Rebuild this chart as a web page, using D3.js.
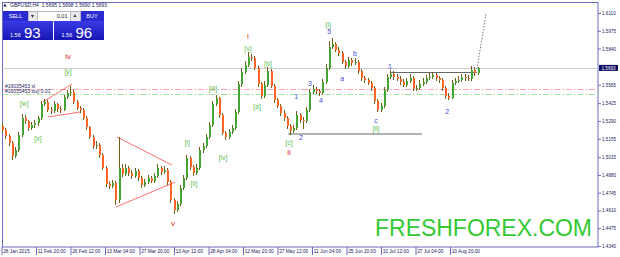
<!DOCTYPE html>
<html>
<head>
<meta charset="utf-8">
<script src="https://cdn.jsdelivr.net/npm/d3@7"></script>
<style>
    body { margin: 0; background: #fff; }
    svg { display: block; font-family: "Liberation Sans", Arial, sans-serif; }
</style>
</head>
<body>
<div id="chart"></div>
<script>
// Data (one candle per trading day)
const symbolTitle = "GBPUSD,H4  1.5695 1.5698 1.5690 1.5693";
const firstOpen = 1.5250;

const dailyClose = [
    1.5221, 1.5175, 1.5122, 1.5023, 1.5069, 1.5183, 1.5312, 1.5289, 1.5236, 1.5259,
    1.5274, 1.5312, 1.5419, 1.5434, 1.5373, 1.5366, 1.5419, 1.5381, 1.5373, 1.5472,
    1.5502, 1.5510, 1.5434, 1.5388, 1.5373, 1.5312, 1.5244, 1.5168, 1.5099, 1.5107,
    1.5031, 1.4932, 1.4811, 1.4795, 1.4818, 1.4689, 1.4932, 1.4887, 1.4932, 1.4894,
    1.4871, 1.4909, 1.4856, 1.4803, 1.4826, 1.4856, 1.4833, 1.4871, 1.4932, 1.4902,
    1.4917, 1.4826, 1.4689, 1.4613, 1.4659, 1.4780, 1.4856, 1.5008, 1.4940, 1.4894,
    1.4932, 1.5069, 1.5099, 1.5168, 1.5259, 1.5419, 1.5464, 1.5335, 1.5198, 1.5168,
    1.5206, 1.5236, 1.5358, 1.5571, 1.5662, 1.5715, 1.5776, 1.5768, 1.5692, 1.5571,
    1.5479, 1.5563, 1.5669, 1.5555, 1.5449, 1.5403, 1.5350, 1.5312, 1.5251, 1.5213,
    1.5236, 1.5335, 1.5297, 1.5290, 1.5373, 1.5510, 1.5533, 1.5517, 1.5505, 1.5586,
    1.5692, 1.5852, 1.5875, 1.5829, 1.5806, 1.5738, 1.5707, 1.5753, 1.5730, 1.5738,
    1.5669, 1.5616, 1.5601, 1.5578, 1.5540, 1.5441, 1.5373, 1.5403, 1.5525, 1.5624,
    1.5647, 1.5624, 1.5609, 1.5586, 1.5563, 1.5593, 1.5616, 1.5533, 1.5540, 1.5571,
    1.5586, 1.5616, 1.5624, 1.5639, 1.5616, 1.5601, 1.5540, 1.5479, 1.5464, 1.5578,
    1.5593, 1.5601, 1.5624, 1.5616, 1.5609, 1.5677, 1.5654, 1.5693
];

const dailyHigh = [
    1.5275, 1.5240, 1.5190, 1.5135, 1.5095, 1.5205, 1.5340, 1.5335, 1.5300, 1.5285,
    1.5300, 1.5330, 1.5440, 1.5460, 1.5450, 1.5395, 1.5445, 1.5430, 1.5400, 1.5490,
    1.5525, 1.5555, 1.5525, 1.5450, 1.5405, 1.5385, 1.5325, 1.5255, 1.5180, 1.5135,
    1.5120, 1.5045, 1.4945, 1.4835, 1.4845, 1.4830, 1.5168, 1.4960, 1.4960, 1.4950,
    1.4915, 1.4935, 1.4925, 1.4870, 1.4850, 1.4880, 1.4875, 1.4895, 1.4960, 1.4950,
    1.4945, 1.4935, 1.4840, 1.4705, 1.4685, 1.4800, 1.4880, 1.5035, 1.5020, 1.4955,
    1.4960, 1.5090, 1.5125, 1.5190, 1.5285, 1.5445, 1.5487, 1.5475, 1.5350, 1.5215,
    1.5230, 1.5260, 1.5380, 1.5595, 1.5690, 1.5745, 1.5814, 1.5800, 1.5780, 1.5705,
    1.5585, 1.5590, 1.5700, 1.5685, 1.5570, 1.5465, 1.5420, 1.5370, 1.5325, 1.5265,
    1.5260, 1.5365, 1.5350, 1.5320, 1.5395, 1.5535, 1.5560, 1.5550, 1.5535, 1.5610,
    1.5720, 1.5900, 1.5920, 1.5890, 1.5850, 1.5820, 1.5755, 1.5775, 1.5770, 1.5765,
    1.5750, 1.5685, 1.5635, 1.5620, 1.5595, 1.5555, 1.5455, 1.5430, 1.5545, 1.5650,
    1.5680, 1.5670, 1.5645, 1.5630, 1.5605, 1.5620, 1.5650, 1.5630, 1.5565, 1.5600,
    1.5615, 1.5640, 1.5655, 1.5665, 1.5655, 1.5635, 1.5615, 1.5555, 1.5500, 1.5600,
    1.5620, 1.5630, 1.5650, 1.5645, 1.5640, 1.5710, 1.5700, 1.5698
];

const dailyLow = [
    1.5195, 1.5150, 1.5100, 1.4993, 1.5005, 1.5055, 1.5170, 1.5265, 1.5215, 1.5220,
    1.5240, 1.5255, 1.5300, 1.5400, 1.5355, 1.5345, 1.5350, 1.5360, 1.5350, 1.5365,
    1.5455, 1.5480, 1.5420, 1.5370, 1.5350, 1.5295, 1.5225, 1.5150, 1.5080, 1.5080,
    1.5010, 1.4915, 1.4790, 1.4770, 1.4780, 1.4651, 1.4670, 1.4865, 1.4870, 1.4875,
    1.4850, 1.4855, 1.4835, 1.4780, 1.4785, 1.4810, 1.4815, 1.4820, 1.4860, 1.4880,
    1.4885, 1.4805, 1.4665, 1.4583, 1.4595, 1.4645, 1.4765, 1.4840, 1.4920, 1.4875,
    1.4880, 1.4920, 1.5050, 1.5085, 1.5150, 1.5245, 1.5400, 1.5315, 1.5180, 1.5145,
    1.5150, 1.5190, 1.5220, 1.5345, 1.5550, 1.5645, 1.5700, 1.5745, 1.5675, 1.5550,
    1.5455, 1.5465, 1.5545, 1.5540, 1.5430, 1.5385, 1.5330, 1.5290, 1.5230, 1.5183,
    1.5195, 1.5220, 1.5275, 1.5230, 1.5275, 1.5360, 1.5495, 1.5495, 1.5480, 1.5490,
    1.5570, 1.5680, 1.5835, 1.5810, 1.5785, 1.5720, 1.5685, 1.5690, 1.5710, 1.5715,
    1.5650, 1.5595, 1.5580, 1.5560, 1.5520, 1.5420, 1.5358, 1.5360, 1.5390, 1.5510,
    1.5605, 1.5600, 1.5590, 1.5565, 1.5545, 1.5550, 1.5580, 1.5515, 1.5515, 1.5525,
    1.5555, 1.5570, 1.5600, 1.5610, 1.5595, 1.5580, 1.5520, 1.5460, 1.5449, 1.5455,
    1.5560, 1.5575, 1.5585, 1.5595, 1.5590, 1.5595, 1.5635, 1.5640
];

const timeLabels = [
    "28 Jan 2015", "11 Feb 20:00", "26 Feb 12:00", "13 Mar 04:00", "27 Mar 20:00",
    "13 Apr 12:00", "28 Apr 04:00", "12 May 20:00", "27 May 12:00", "11 Jun 04:00",
    "25 Jun 20:00", "10 Jul 12:00", "27 Jul 04:00", "10 Aug 20:00"
];
const barsPerLabel = 64;   // H4 bars between time labels
const barsPerDay = 6;

const priceTicks = [1.6110, 1.5975, 1.5840, 1.5565, 1.5425, 1.5290, 1.5155,
    1.5015, 1.4880, 1.4745, 1.4610, 1.4475, 1.4340];
const lastPrice = 1.5693;
const orderLevels = [
    { price: 1.5533, label: "#16035453 sl", kind: "sl" },
    { price: 1.5495, label: "#16035453 buy 0.01", kind: "buy" }
];

// Wave counts: day index, price, text, degree
const waveLabels = [
    { d: 20.1, p: 1.5776, t: "iv", k: "minor" },
    { d: 20.1, p: 1.5669, t: "[y]", k: "minute" },
    { d: 6.5, p: 1.5426, t: "[w]", k: "minute" },
    { d: 10.8, p: 1.5160, t: "[x]", k: "minute" },
    { d: 52.5, p: 1.4514, t: "v", k: "minor" },
    { d: 56.9, p: 1.5130, t: "[i]", k: "minute" },
    { d: 59.0, p: 1.4818, t: "[ii]", k: "minute" },
    { d: 64.9, p: 1.5540, t: "[iii]", k: "minute" },
    { d: 68.0, p: 1.5016, t: "[iv]", k: "minute" },
    { d: 75.7, p: 1.5844, t: "[v]", k: "minute" },
    { d: 75.7, p: 1.5928, t: "i", k: "minor" },
    { d: 78.5, p: 1.5396, t: "[a]", k: "minute" },
    { d: 81.9, p: 1.5730, t: "[b]", k: "minute" },
    { d: 88.4, p: 1.5130, t: "[c]", k: "minute" },
    { d: 88.4, p: 1.5054, t: "ii", k: "minor" },
    { d: 90.6, p: 1.5472, t: "1", k: "minuette" },
    { d: 92.1, p: 1.5168, t: "2", k: "minuette" },
    { d: 94.9, p: 1.5571, t: "3", k: "minuette" },
    { d: 98.3, p: 1.5449, t: "4", k: "minuette" },
    { d: 100.8, p: 1.5966, t: "5", k: "minuette" },
    { d: 100.5, p: 1.6019, t: "[i]", k: "minute" },
    { d: 104.8, p: 1.5609, t: "a", k: "minuette" },
    { d: 108.8, p: 1.5806, t: "b", k: "minuette" },
    { d: 115.3, p: 1.5290, t: "c", k: "minuette" },
    { d: 115.3, p: 1.5232, t: "[ii]", k: "minute" },
    { d: 119.6, p: 1.5700, t: "1", k: "minuette" },
    { d: 137.3, p: 1.5365, t: "2", k: "minuette" }
];

const trendLines = [
    { d1: 12.3, p1: 1.5434, d2: 21.3, p2: 1.5571, k: "wedge" },
    { d1: 13.9, p1: 1.5320, d2: 23.8, p2: 1.5358, k: "wedge" },
    { d1: 35.2, p1: 1.5168, d2: 52.2, p2: 1.4955, k: "wedge" },
    { d1: 34.9, p1: 1.4636, d2: 53.2, p2: 1.4826, k: "wedge" },
    { d1: 88.1, p1: 1.5191, d2: 129.5, p2: 1.5191, k: "level" },
    { d1: 119.6, p1: 1.5658, d2: 146.5, p2: 1.5658, k: "level" },
    { d1: 146.5, p1: 1.5685, d2: 149.3, p2: 1.6103, k: "target" }
];

const panelPrices = { sell: ["1.56", "93"], buy: ["1.56", "96"], lot: "0.01" };

// Configuration
const colors = {
    frame: "#6b6bc0",
    axisText: "#1c1c5c",
    bull: "#43a535",
    bear: "#ff6424",
    wick: "#6e5e18",
    minute: "#62c052",
    minor: "#d8261a",
    minuette: "#4848e0",
    wedge: "#ff7070",
    level: "#666",
    sl: "#f3a3ad",
    buy: "#a9e29f",
    bid: "#cdcdcd",
    brand: "#33c933"
};

const W = 620, H = 257;
const plot = { left: 2.5, right: 598, top: 2.5, bottom: 247 };

const svg = d3.select("#chart").append("svg")
    .attr("width", W)
    .attr("height", H);

// Scales: x by H4 bar index, y by price
const x = d3.scaleLinear()
    .domain([0, barsPerLabel * (timeLabels.length - 1)])
    .range([1.5, 450]);
const y = d3.scaleLinear()
    .domain([1.4340, 1.6110])
    .range([246, 13]);
const dayX = d => x(d * barsPerDay + barsPerDay / 2);

// Frame
svg.append("rect")
    .attr("x", plot.left).attr("y", plot.top)
    .attr("width", plot.right - plot.left).attr("height", plot.bottom - plot.top)
    .attr("fill", "#fff").attr("stroke", colors.frame).attr("stroke-width", 1);

// Bid line + order lines
svg.append("line")
    .attr("x1", plot.left).attr("x2", plot.right)
    .attr("y1", Math.round(y(lastPrice)) + 0.5).attr("y2", Math.round(y(lastPrice)) + 0.5)
    .attr("stroke", colors.bid);

orderLevels.forEach(o => {
    const yy = Math.round(y(o.price)) + 0.5;
    svg.append("line")
        .attr("x1", plot.left).attr("x2", plot.right)
        .attr("y1", yy).attr("y2", yy)
        .attr("stroke", colors[o.kind])
        .attr("stroke-width", 1.2)
        .attr("stroke-dasharray", "6,2,1.5,2");
    svg.append("text")
        .attr("x", 5).attr("y", yy - 1.2)
        .style("font-size", "5px")
        .attr("fill", "#262668")
        .text(o.label);
});

// Watermark
svg.append("text")
    .attr("x", 375).attr("y", 236)
    .attr("textLength", 217)
    .attr("lengthAdjust", "spacingAndGlyphs")
    .style("font-size", "23px")
    .attr("fill", colors.brand)
    .text("FRESHFOREX.COM");

// Trend lines
svg.append("g").selectAll("line")
    .data(trendLines)
    .join("line")
    .attr("x1", d => dayX(d.d1)).attr("y1", d => y(d.p1))
    .attr("x2", d => dayX(d.d2)).attr("y2", d => y(d.p2))
    .attr("stroke", d => d.k === "wedge" ? colors.wedge : (d.k === "level" ? colors.level : "#777"))
    .attr("stroke-width", d => d.k === "level" ? 1.2 : 1)
    .attr("stroke-dasharray", d => d.k === "target" ? "1.5,1.5" : null);

// Candles
const candles = dailyClose.map((c, i) => ({
    d: i,
    o: i === 0 ? firstOpen : dailyClose[i - 1],
    c: c,
    h: dailyHigh[i],
    l: dailyLow[i]
}));

const cg = svg.append("g").attr("shape-rendering", "crispEdges");

cg.selectAll("rect.wick")
    .data(candles)
    .join("rect")
    .attr("class", "wick")
    .attr("x", d => Math.round(dayX(d.d)) - 1)
    .attr("y", d => y(d.h))
    .attr("width", 1)
    .attr("height", d => y(d.l) - y(d.h))
    .attr("fill", colors.wick);

cg.selectAll("rect.body")
    .data(candles)
    .join("rect")
    .attr("class", "body")
    .attr("x", d => Math.round(dayX(d.d)) - 1)
    .attr("y", d => y(Math.max(d.o, d.c)))
    .attr("width", 2)
    .attr("height", d => Math.max(1, Math.abs(y(d.o) - y(d.c))))
    .attr("fill", d => d.c >= d.o ? colors.bull : colors.bear);

// Wave labels
svg.append("g").selectAll("text")
    .data(waveLabels)
    .join("text")
    .attr("x", d => dayX(d.d))
    .attr("y", d => y(d.p))
    .attr("text-anchor", "middle")
    .attr("dominant-baseline", "central")
    .style("font-size", d => d.k === "minor" ? "8px" : "7px")
    .attr("fill", d => colors[d.k])
    .text(d => d.t);

// Axes
const gx = svg.append("g")
    .attr("transform", `translate(0,${plot.bottom})`)
    .call(d3.axisBottom(x)
        .tickValues(timeLabels.map((_, i) => i * barsPerLabel))
        .tickFormat((d, i) => timeLabels[i])
        .tickSize(8));
gx.select(".domain").remove();
gx.selectAll("line").attr("stroke", colors.frame);
gx.selectAll("text")
    .attr("text-anchor", "start")
    .attr("x", 1.2)
    .attr("y", 4.3)
    .attr("dy", "0.35em")
    .attr("fill", colors.axisText)
    .style("font-size", "4.8px");

const gy = svg.append("g")
    .attr("transform", `translate(${plot.right},0)`)
    .call(d3.axisRight(y)
        .tickValues(priceTicks)
        .tickFormat(d3.format(".4f"))
        .tickSize(3)
        .tickPadding(1));
gy.select(".domain").remove();
gy.selectAll("line").attr("stroke", colors.frame);
gy.selectAll("text")
    .attr("fill", colors.axisText)
    .style("font-size", "4.6px");

// Current price tag
const bidY = y(lastPrice);
svg.append("rect")
    .attr("x", 599).attr("y", bidY - 3)
    .attr("width", 19).attr("height", 6)
    .attr("fill", "#0c0c5e");
svg.append("text")
    .attr("x", 601.5).attr("y", bidY)
    .attr("dy", "0.35em")
    .attr("fill", "#fff")
    .style("font-size", "4.6px")
    .text(d3.format(".4f")(lastPrice));

// Title line
svg.append("path")
    .attr("d", d3.symbol(d3.symbolTriangle, 5)())
    .attr("transform", "translate(5,5.5)")
    .attr("fill", "#202060");
svg.append("text")
    .attr("x", 10).attr("y", 5.5)
    .attr("dy", "0.35em")
    .attr("fill", "#202060")
    .style("font-size", "5px")
    .attr("xml:space", "preserve")
    .text(symbolTitle);

// One-click trading panel
const defs = svg.append("defs");
const grad = defs.append("linearGradient").attr("id", "blueBox").attr("x1", 0).attr("y1", 0).attr("x2", 0).attr("y2", 1);
grad.append("stop").attr("offset", "0%").attr("stop-color", "#3a3ae6");
grad.append("stop").attr("offset", "100%").attr("stop-color", "#1616b4");

const panel = svg.append("g").attr("shape-rendering", "crispEdges");
panel.append("rect").attr("x", 3).attr("y", 11).attr("width", 25).attr("height", 10).attr("fill", "#2b2bd2");
panel.append("rect").attr("x", 80).attr("y", 11).attr("width", 24).attr("height", 10).attr("fill", "#2b2bd2");
panel.append("rect").attr("x", 28).attr("y", 11).attr("width", 9).attr("height", 10).attr("fill", "#e8e8ee").attr("stroke", "#b8b8c8");
panel.append("rect").attr("x", 70).attr("y", 11).attr("width", 10).attr("height", 10).attr("fill", "#e8e8ee").attr("stroke", "#b8b8c8");
panel.append("rect").attr("x", 37).attr("y", 11).attr("width", 33).attr("height", 10).attr("fill", "#fff").attr("stroke", "#b8b8c8");
panel.append("rect").attr("x", 3).attr("y", 21).attr("width", 50).attr("height", 19).attr("fill", "url(#blueBox)");
panel.append("rect").attr("x", 54).attr("y", 21).attr("width", 50).attr("height", 19).attr("fill", "url(#blueBox)");

const pt = svg.append("g");
pt.append("text").attr("x", 15.5).attr("y", 16.3).attr("dy", "0.35em").attr("text-anchor", "middle")
    .attr("fill", "#fff").style("font-size", "5.5px").text("SELL");
pt.append("text").attr("x", 92).attr("y", 16.3).attr("dy", "0.35em").attr("text-anchor", "middle")
    .attr("fill", "#fff").style("font-size", "5.5px").text("BUY");
pt.append("text").attr("x", 67.5).attr("y", 16.3).attr("dy", "0.35em").attr("text-anchor", "end")
    .attr("fill", "#222").style("font-size", "5.5px").text(panelPrices.lot);
pt.append("path").attr("d", d3.symbol(d3.symbolTriangle, 4)()).attr("transform", "translate(32.5,16) rotate(180)").attr("fill", "#333");
pt.append("path").attr("d", d3.symbol(d3.symbolTriangle, 4)()).attr("transform", "translate(75,16)").attr("fill", "#333");

[[panelPrices.sell, 10], [panelPrices.buy, 61.5]].forEach(([pp, x0]) => {
    pt.append("text").attr("x", x0).attr("y", 37.2).attr("fill", "#fff").style("font-size", "5.5px").text(pp[0]);
    pt.append("text").attr("x", x0 + 14).attr("y", 38.2).attr("fill", "#fff").style("font-size", "15px").text(pp[1]);
});
</script>
</body>
</html>
